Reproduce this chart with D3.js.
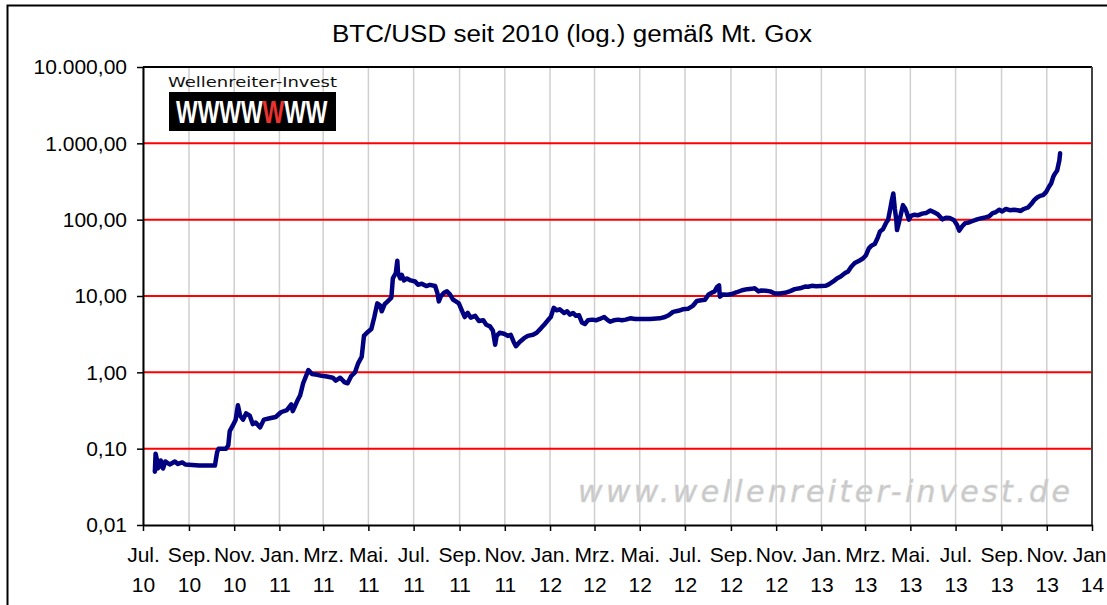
<!DOCTYPE html>
<html>
<head>
<meta charset="utf-8">
<script src="https://cdn.jsdelivr.net/npm/d3@7"></script>
<style>
  body { margin: 0; background: #fff; }
  svg { display: block; font-family: "Liberation Sans", Arial, sans-serif; }
</style>
</head>
<body>
<div id="chart"></div>
<script>
// BTC/USD Mt. Gox
var dates = ["2010-07-17","2010-07-18","2010-07-20","2010-07-21","2010-07-24","2010-07-25","2010-07-28","2010-07-31",
  "2010-08-06","2010-08-13","2010-08-17","2010-08-23","2010-08-27","2010-09-15","2010-10-06","2010-10-09","2010-10-11",
  "2010-10-21","2010-10-24","2010-10-26","2010-10-30","2010-11-03","2010-11-06","2010-11-09","2010-11-13","2010-11-17",
  "2010-11-22","2010-11-26","2010-11-30","2010-12-06","2010-12-11","2010-12-19","2010-12-27","2011-01-03","2011-01-11",
  "2011-01-17","2011-01-19","2011-01-25","2011-01-29","2011-02-02","2011-02-06","2011-02-09","2011-02-14","2011-02-21",
  "2011-02-27","2011-03-06","2011-03-14","2011-03-18","2011-03-24","2011-03-30","2011-04-03","2011-04-08","2011-04-13",
  "2011-04-17","2011-04-22","2011-04-25","2011-04-29","2011-05-05","2011-05-09","2011-05-13","2011-05-17","2011-05-19",
  "2011-05-23","2011-05-27","2011-06-01","2011-06-03","2011-06-07","2011-06-09","2011-06-10","2011-06-13","2011-06-15",
  "2011-06-18","2011-06-22","2011-06-27","2011-07-03","2011-07-07","2011-07-12","2011-07-18","2011-07-23","2011-07-30",
  "2011-08-02","2011-08-04","2011-08-07","2011-08-11","2011-08-15","2011-08-19","2011-08-23","2011-08-27","2011-08-31",
  "2011-09-04","2011-09-08","2011-09-12","2011-09-16","2011-09-22","2011-09-27","2011-10-03","2011-10-07","2011-10-12",
  "2011-10-16","2011-10-19","2011-10-21","2011-10-25","2011-10-31","2011-11-05","2011-11-09","2011-11-13","2011-11-16",
  "2011-11-21","2011-11-27","2011-12-02","2011-12-09","2011-12-14","2011-12-20","2011-12-25","2011-12-29","2012-01-02",
  "2012-01-06","2012-01-10","2012-01-14","2012-01-20","2012-01-24","2012-01-28","2012-02-01","2012-02-05","2012-02-09",
  "2012-02-13","2012-02-17","2012-02-21","2012-02-27","2012-03-03","2012-03-08","2012-03-14","2012-03-18","2012-03-22",
  "2012-03-27","2012-04-02","2012-04-07","2012-04-12","2012-04-18","2012-04-25","2012-05-01","2012-05-15","2012-05-28",
  "2012-06-04","2012-06-09","2012-06-15","2012-06-22","2012-06-28","2012-07-05","2012-07-12","2012-07-17","2012-07-23",
  "2012-07-28","2012-08-02","2012-08-06","2012-08-10","2012-08-13","2012-08-16","2012-08-17","2012-08-21","2012-08-27",
  "2012-09-02","2012-09-09","2012-09-16","2012-09-23","2012-09-29","2012-10-03","2012-10-08","2012-10-12","2012-10-18",
  "2012-10-24","2012-10-30","2012-11-06","2012-11-13","2012-11-20","2012-11-26","2012-12-03","2012-12-10","2012-12-14",
  "2012-12-19","2012-12-25","2012-12-31","2013-01-07","2013-01-11","2013-01-17","2013-01-22","2013-01-27","2013-02-02",
  "2013-02-06","2013-02-10","2013-02-15","2013-02-21","2013-02-26","2013-03-02","2013-03-06","2013-03-10","2013-03-14",
  "2013-03-18","2013-03-21","2013-03-25","2013-03-29","2013-04-01","2013-04-04","2013-04-06","2013-04-08","2013-04-10",
  "2013-04-12","2013-04-13","2013-04-16","2013-04-18","2013-04-21","2013-04-24","2013-04-26","2013-04-29","2013-05-02",
  "2013-05-06","2013-05-11","2013-05-17","2013-05-22","2013-05-28","2013-06-02","2013-06-07","2013-06-13","2013-06-18",
  "2013-06-23","2013-06-29","2013-07-03","2013-07-06","2013-07-10","2013-07-14","2013-07-19","2013-07-24","2013-07-30",
  "2013-08-04","2013-08-10","2013-08-15","2013-08-20","2013-08-24","2013-08-29","2013-09-02","2013-09-07","2013-09-12",
  "2013-09-18","2013-09-23","2013-09-27","2013-10-01","2013-10-07","2013-10-11","2013-10-15","2013-10-19","2013-10-23",
  "2013-10-27","2013-10-31","2013-11-04","2013-11-07","2013-11-10","2013-11-12","2013-11-15","2013-11-16","2013-11-18",
  "2013-11-19"];
var prices = [0.05,0.086,0.07,0.055,0.06,0.07,0.055,0.068,
  0.062,0.068,0.063,0.066,0.062,0.06,0.06,0.09,0.1,
  0.1,0.11,0.17,0.2,0.24,0.37,0.27,0.24,0.29,
  0.27,0.21,0.22,0.19,0.24,0.25,0.26,0.30,0.32,
  0.38,0.31,0.42,0.5,0.72,0.9,1.07,0.95,0.93,
  0.9,0.88,0.85,0.78,0.85,0.74,0.72,0.9,1.0,
  1.3,1.6,3.0,3.3,3.7,5.3,8.0,7.5,6.3,
  7.8,8.5,9.5,17,20,29,20,17,19,
  16,17,16,15.5,14,14.5,13.5,14,13.5,
  11,8.5,10,11,11.5,10.5,9,8.5,8,
  6.5,5.3,6,5.2,5.5,4.7,4.8,4.2,4.0,
  3.5,2.3,3.0,3.3,3.2,3.0,3.1,2.5,2.2,
  2.5,2.8,3.0,3.1,3.3,3.8,4.3,4.8,5.3,
  7.0,6.5,6.7,6.0,6.3,5.7,6.0,5.5,5.6,
  4.5,4.3,4.8,4.9,4.8,5.0,5.3,4.9,4.6,
  4.8,4.9,4.8,4.9,5.1,5.0,5.0,5.0,5.1,
  5.3,5.6,6.2,6.4,6.7,6.8,7.5,8.6,8.8,
  8.9,10.5,11,11.5,13,13.8,9.8,10.5,10.4,
  10.6,11.2,11.9,12.3,12.4,12.6,11.5,11.8,11.7,
  11.5,10.8,10.8,11,11.6,12.3,12.6,13.3,13.2,
  13.6,13.4,13.5,13.6,14.2,15.5,17,18,20,
  21,24,27,29,31,34,42,46,48,
  58,70,75,90,100,140,180,220,140,
  100,73,95,115,155,140,125,100,112,
  116,114,120,122,132,125,118,101,106,
  105,98,85,72,82,90,92,96,101,
  104,107,110,122,125,135,128,138,133,
  135,133,130,138,145,160,180,195,205,
  210,230,270,300,370,400,440,490,600,
  740];

var yTicks = [0.01, 0.1, 1, 10, 100, 1000, 10000];
var redLines = [0.1, 1, 10, 100, 1000];
var monthNames = ["Jan.","Feb.","Mrz.","Apr.","Mai.","Jun.","Jul.","Aug.","Sep.","Okt.","Nov.","Dez."];

var title = "BTC/USD seit 2010 (log.) gemäß Mt. Gox";

var W = 1107, H = 605;
var parse = d3.timeParse("%Y-%m-%d");

var svg = d3.select("#chart").append("svg")
    .attr("width", W)
    .attr("height", H);

// outer frame of the chart
svg.append("rect")
    .attr("x", 7.5).attr("y", 5.5)
    .attr("width", W + 20).attr("height", H + 20)
    .attr("fill", "#fff").attr("stroke", "#000").attr("stroke-width", 2);

var x = d3.scaleTime()
    .domain([parse("2010-07-01"), parse("2014-01-01")])
    .range([143, 1092]);
var y = d3.scaleLog()
    .domain([0.01, 10000])
    .range([525, 67]);

var de = d3.formatLocale({decimal: ",", thousands: ".", grouping: [3], currency: ["", " €"]});
var fmt = de.format(",.2f");

var xTicks = x.ticks(d3.timeMonth.every(2));

// vertical grid
svg.append("g").selectAll("line").data(xTicks).enter()
    .append("line")
    .attr("x1", function(d) { return x(d); })
    .attr("x2", function(d) { return x(d); })
    .attr("y1", 67).attr("y2", 525)
    .attr("stroke", "#cfcfcf")
    .attr("stroke-width", 1.5);

// red decade lines
svg.append("g").selectAll("line").data(redLines).enter()
    .append("line")
    .attr("x1", 143).attr("x2", 1092)
    .attr("y1", function(d) { return y(d); })
    .attr("y2", function(d) { return y(d); })
    .attr("stroke", "#ff0000")
    .attr("stroke-width", 2);

// watermark
svg.append("text")
    .attr("x", 578).attr("y", 502)
    .attr("textLength", 492)
    .attr("lengthAdjust", "spacing")
    .style("font-family", "'DejaVu Sans', sans-serif")
    .style("font-size", "30px")
    .style("font-style", "italic")
    .style("fill", "#c8c8c8")
    .style("stroke", "#d6d6d6")
    .style("stroke-width", 0.7)
    .text("www.wellenreiter-invest.de");

// logo
svg.append("text")
    .attr("x", 168).attr("y", 87)
    .attr("textLength", 169)
    .attr("lengthAdjust", "spacingAndGlyphs")
    .style("font-family", "'DejaVu Sans', sans-serif")
    .style("font-size", "14px")
    .style("fill", "#111")
    .text("Wellenreiter-Invest");
svg.append("rect")
    .attr("x", 169).attr("y", 92)
    .attr("width", 167).attr("height", 39)
    .attr("fill", "#000");
var logo = svg.append("text")
    .attr("transform", "translate(176,123) scale(0.74,1)")
    .style("font-size", "31px")
    .style("font-weight", "bold")
    .style("fill", "#fff");
logo.append("tspan").text("WWWW");
logo.append("tspan").style("fill", "#e8332e").text("W");
logo.append("tspan").text("WW");

// price line
var line = d3.line()
    .x(function(d, i) { return x(parse(dates[i])); })
    .y(function(d) { return y(d); });

svg.append("path")
    .datum(prices)
    .attr("d", line)
    .attr("fill", "none")
    .attr("stroke", "#000080")
    .attr("stroke-width", 4.5)
    .attr("stroke-linejoin", "round")
    .attr("stroke-linecap", "round");

// plot frame
svg.append("line").attr("x1", 143).attr("x2", 1092).attr("y1", 67).attr("y2", 67)
    .attr("stroke", "#000").attr("stroke-width", 2);
svg.append("line").attr("x1", 1092).attr("x2", 1092).attr("y1", 67).attr("y2", 525)
    .attr("stroke", "#444").attr("stroke-width", 2);

// axes
var yAxis = svg.append("g")
    .attr("transform", "translate(143,0)")
    .call(d3.axisLeft(y).tickValues(yTicks).tickFormat(fmt).tickSizeInner(6).tickSizeOuter(0).tickPadding(10));

var xAxis = svg.append("g")
    .attr("transform", "translate(0,525)")
    .call(d3.axisBottom(x).tickValues(xTicks).tickSizeInner(6).tickSizeOuter(0).tickFormat(""));

[yAxis, xAxis].forEach(function(a) {
    a.select(".domain").attr("stroke", "#000").attr("stroke-width", 2);
    a.selectAll(".tick line").attr("stroke", "#000").attr("stroke-width", 1.5);
});
yAxis.selectAll("text")
    .style("font-size", "21px")
    .style("font-family", "'Liberation Sans', Arial, sans-serif")
    .attr("fill", "#000");

var xl = xAxis.selectAll(".tick").append("text")
    .attr("fill", "#000")
    .attr("text-anchor", "middle")
    .style("font-size", "21px")
    .style("font-family", "'Liberation Sans', Arial, sans-serif");
xl.append("tspan").attr("x", 0).attr("y", 37)
    .text(function(d) { return monthNames[d.getMonth()]; });
xl.append("tspan").attr("x", 0).attr("y", 67)
    .text(function(d) { return d3.timeFormat("%y")(d); });

// title
svg.append("text")
    .attr("x", 572).attr("y", 42)
    .attr("text-anchor", "middle")
    .attr("textLength", 480)
    .attr("lengthAdjust", "spacingAndGlyphs")
    .style("font-size", "23px")
    .text(title);
</script>
</body>
</html>
